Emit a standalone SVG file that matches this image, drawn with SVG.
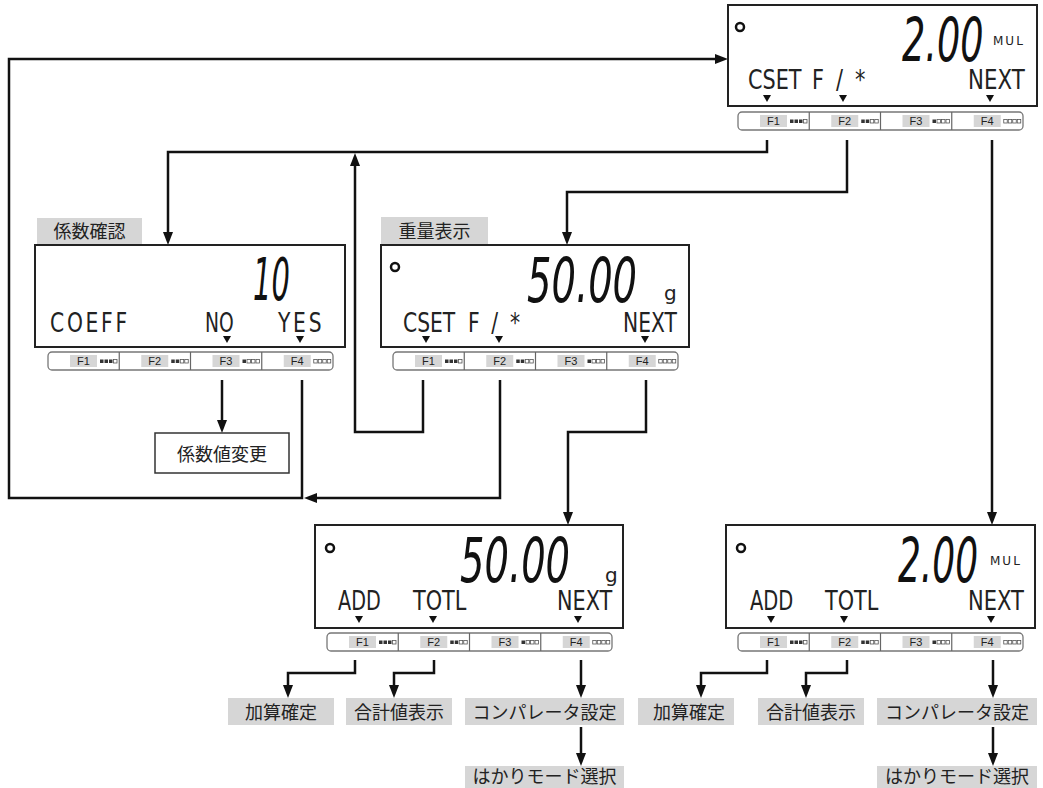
<svg xmlns="http://www.w3.org/2000/svg" width="1043" height="788" viewBox="0 0 1043 788">
<style>
.box{fill:#fff;stroke:#222;stroke-width:2}
.bar{fill:#fff;stroke:#777;stroke-width:1.3}
.div{stroke:#666;stroke-width:1.2}
.kbg{fill:#d6d6d6}
.key{font-family:"Liberation Sans",sans-serif;font-size:11px;fill:#222;text-anchor:middle}
.big{font-family:"DejaVu Sans",sans-serif;font-style:italic;fill:#111}
.lcd{font-family:"DejaVu Sans",sans-serif;font-size:26px;fill:#222}
.unit{font-family:"DejaVu Sans",sans-serif;fill:#222}
.tag{fill:#d6d6d6}
.jp{font-family:"Noto Sans CJK JP",sans-serif;font-size:18px;fill:#222;text-anchor:middle}
.ring{fill:none;stroke:#111;stroke-width:2.5}
.tri{fill:#111}
.con{fill:none;stroke:#111;stroke-width:2.5;stroke-linejoin:miter}
.sq{fill:#333}
.sqo{fill:none;stroke:#555;stroke-width:0.8}
</style>
<defs>
<marker id="ah" markerUnits="userSpaceOnUse" markerWidth="14" markerHeight="11" refX="3" refY="5" orient="auto"><path d="M0,0 L13,5 L0,10 z" fill="#111"/></marker>
<g id="d1"><rect class="sq" x="0" y="0" width="3.5" height="3.5"/><rect class="sq" x="4.5" y="0" width="3.5" height="3.5"/><rect class="sq" x="9" y="0" width="3.5" height="3.5"/><rect class="sqo" x="13.5" y="0" width="3.5" height="3.5"/></g>
<g id="d2"><rect class="sq" x="0" y="0" width="3.5" height="3.5"/><rect class="sq" x="4.5" y="0" width="3.5" height="3.5"/><rect class="sqo" x="9" y="0" width="3.5" height="3.5"/><rect class="sqo" x="13.5" y="0" width="3.5" height="3.5"/></g>
<g id="d3"><rect class="sq" x="0" y="0" width="3.5" height="3.5"/><rect class="sqo" x="4.5" y="0" width="3.5" height="3.5"/><rect class="sqo" x="9" y="0" width="3.5" height="3.5"/><rect class="sqo" x="13.5" y="0" width="3.5" height="3.5"/></g>
<g id="d4"><rect class="sqo" x="0" y="0" width="3.5" height="3.5"/><rect class="sqo" x="4.5" y="0" width="3.5" height="3.5"/><rect class="sqo" x="9" y="0" width="3.5" height="3.5"/><rect class="sqo" x="13.5" y="0" width="3.5" height="3.5"/></g>
</defs>

<g id="connectors">
<path class="con" marker-end="url(#ah)" d="M302,380 V498 H9 V59 H718"/>
<path class="con" marker-end="url(#ah)" d="M500,380 V498 H314"/>
<path class="con" marker-end="url(#ah)" d="M767,140 V152 H168 V235"/>
<path class="con" marker-end="url(#ah)" d="M847,140 V192 H567 V235"/>
<path class="con" marker-end="url(#ah)" d="M992,140 V515"/>
<path class="con" marker-end="url(#ah)" d="M423,380 V432 H355 V163"/>
<path class="con" marker-end="url(#ah)" d="M646,380 V432 H568 V515"/>
<path class="con" marker-end="url(#ah)" d="M222,380 V423"/>
<path class="con" marker-end="url(#ah)" d="M355,660 V673 H288 V688"/>
<path class="con" marker-end="url(#ah)" d="M434,660 V673 H394 V688"/>
<path class="con" marker-end="url(#ah)" d="M581,660 V688"/>
<path class="con" marker-end="url(#ah)" d="M581,727 V756"/>
<path class="con" marker-end="url(#ah)" d="M767,660 V673 H701 V688"/>
<path class="con" marker-end="url(#ah)" d="M847,660 V673 H806 V688"/>
<path class="con" marker-end="url(#ah)" d="M993,660 V688"/>
<path class="con" marker-end="url(#ah)" d="M993,727 V756"/>
</g>

<g id="display-top">
<rect class="box" x="728" y="5" width="309" height="101"/>
<circle class="ring" cx="740" cy="27" r="4"/>
<text class="big" transform="translate(902,61) scale(0.6,1)" font-size="61">2.00</text>
<text class="unit" x="993" y="45" font-size="12" letter-spacing="2">MUL</text>
<text class="lcd" transform="translate(748,89) scale(0.8,1)" font-size="25">CSET</text>
<text class="lcd" transform="translate(812,89) scale(0.8,1)" font-size="25" letter-spacing="15">F/*</text>
<text class="lcd" transform="translate(968,89) scale(0.82,1)" font-size="25">NEXT</text>
<polygon class="tri" points="763,95 771,95 767,102"/>
<polygon class="tri" points="839,95 847,95 843,102"/>
<polygon class="tri" points="986,95 994,95 990,102"/>
<rect class="bar" x="738" y="112" width="285" height="18" rx="4"/>
<line class="div" x1="809.25" y1="112" x2="809.25" y2="130"/>
<line class="div" x1="880.5" y1="112" x2="880.5" y2="130"/>
<line class="div" x1="951.75" y1="112" x2="951.75" y2="130"/>
<rect class="kbg" x="760" y="115" width="27" height="12"/><text class="key" x="773.5" y="125">F1</text><use href="#d1" x="790" y="119.5"/>
<rect class="kbg" x="831.25" y="115" width="27" height="12"/><text class="key" x="844.75" y="125">F2</text><use href="#d2" x="861.25" y="119.5"/>
<rect class="kbg" x="902.5" y="115" width="27" height="12"/><text class="key" x="916" y="125">F3</text><use href="#d3" x="932.5" y="119.5"/>
<rect class="kbg" x="973.75" y="115" width="27" height="12"/><text class="key" x="987.25" y="125">F4</text><use href="#d4" x="1003.75" y="119.5"/>
</g>

<g id="display-coeff">
<rect class="tag" x="37" y="218" width="105" height="26"/>
<text class="jp" x="89.5" y="238">係数確認</text>
<rect class="box" x="35" y="245" width="310" height="102"/>
<text class="big" transform="translate(253,300) scale(0.49,1)" font-size="59">10</text>
<text class="lcd" transform="translate(50,332) scale(0.78,1)" letter-spacing="3.5">COEFF</text>
<text class="lcd" transform="translate(205,332) scale(0.72,1)">NO</text>
<text class="lcd" transform="translate(278,332) scale(0.78,1)" letter-spacing="3.5">YES</text>
<polygon class="tri" points="223,336 231,336 227,343"/>
<polygon class="tri" points="296,336 304,336 300,343"/>
<rect class="bar" x="48" y="352" width="285" height="18" rx="4"/>
<line class="div" x1="119.25" y1="352" x2="119.25" y2="370"/>
<line class="div" x1="190.5" y1="352" x2="190.5" y2="370"/>
<line class="div" x1="261.75" y1="352" x2="261.75" y2="370"/>
<rect class="kbg" x="70" y="355" width="27" height="12"/><text class="key" x="83.5" y="365">F1</text><use href="#d1" x="100" y="359.5"/>
<rect class="kbg" x="141.25" y="355" width="27" height="12"/><text class="key" x="154.75" y="365">F2</text><use href="#d2" x="171.25" y="359.5"/>
<rect class="kbg" x="212.5" y="355" width="27" height="12"/><text class="key" x="226" y="365">F3</text><use href="#d3" x="242.5" y="359.5"/>
<rect class="kbg" x="283.75" y="355" width="27" height="12"/><text class="key" x="297.25" y="365">F4</text><use href="#d4" x="313.75" y="359.5"/>
</g>

<g id="coeff-change">
<rect x="155" y="433" width="134" height="40" fill="#fff" stroke="#333" stroke-width="1.5"/>
<text class="jp" x="222" y="461" font-size="21">係数値変更</text>
</g>

<g id="display-weight">
<rect class="tag" x="381" y="217" width="107" height="27"/>
<text class="jp" x="434.5" y="238">重量表示</text>
<rect class="box" x="381" y="245" width="308" height="102"/>
<circle class="ring" cx="395" cy="267" r="4"/>
<text class="big" transform="translate(527,302) scale(0.62,1)" font-size="62">50.00</text>
<text class="unit" x="664" y="300" font-size="20">g</text>
<text class="lcd" transform="translate(403,332) scale(0.78,1)">CSET</text>
<text class="lcd" transform="translate(468,332) scale(0.78,1)" letter-spacing="15">F/*</text>
<text class="lcd" transform="translate(623,332) scale(0.78,1)">NEXT</text>
<polygon class="tri" points="422,336 430,336 426,343"/>
<polygon class="tri" points="495,336 503,336 499,343"/>
<polygon class="tri" points="641,336 649,336 645,343"/>
<rect class="bar" x="393" y="352" width="285" height="18" rx="4"/>
<line class="div" x1="464.25" y1="352" x2="464.25" y2="370"/>
<line class="div" x1="535.5" y1="352" x2="535.5" y2="370"/>
<line class="div" x1="606.75" y1="352" x2="606.75" y2="370"/>
<rect class="kbg" x="415" y="355" width="27" height="12"/><text class="key" x="428.5" y="365">F1</text><use href="#d1" x="445" y="359.5"/>
<rect class="kbg" x="486.25" y="355" width="27" height="12"/><text class="key" x="499.75" y="365">F2</text><use href="#d2" x="516.25" y="359.5"/>
<rect class="kbg" x="557.5" y="355" width="27" height="12"/><text class="key" x="571" y="365">F3</text><use href="#d3" x="587.5" y="359.5"/>
<rect class="kbg" x="628.75" y="355" width="27" height="12"/><text class="key" x="642.25" y="365">F4</text><use href="#d4" x="658.75" y="359.5"/>
</g>

<g id="display-add-g">
<rect class="box" x="315" y="525" width="308" height="103"/>
<circle class="ring" cx="330" cy="548" r="4"/>
<text class="big" transform="translate(460,582) scale(0.62,1)" font-size="62">50.00</text>
<text class="unit" x="605" y="582" font-size="20">g</text>
<text class="lcd" transform="translate(338,610) scale(0.74,1)">ADD</text>
<text class="lcd" transform="translate(413,610) scale(0.8,1)">TOTL</text>
<text class="lcd" transform="translate(557,610) scale(0.8,1)">NEXT</text>
<polygon class="tri" points="355,616 363,616 359,623"/>
<polygon class="tri" points="429,616 437,616 433,623"/>
<polygon class="tri" points="574,616 582,616 578,623"/>
<rect class="bar" x="327" y="633" width="285" height="18" rx="4"/>
<line class="div" x1="398.25" y1="633" x2="398.25" y2="651"/>
<line class="div" x1="469.5" y1="633" x2="469.5" y2="651"/>
<line class="div" x1="540.75" y1="633" x2="540.75" y2="651"/>
<rect class="kbg" x="349" y="636" width="27" height="12"/><text class="key" x="362.5" y="646">F1</text><use href="#d1" x="379" y="640.5"/>
<rect class="kbg" x="420.25" y="636" width="27" height="12"/><text class="key" x="433.75" y="646">F2</text><use href="#d2" x="450.25" y="640.5"/>
<rect class="kbg" x="491.5" y="636" width="27" height="12"/><text class="key" x="505" y="646">F3</text><use href="#d3" x="521.5" y="640.5"/>
<rect class="kbg" x="562.75" y="636" width="27" height="12"/><text class="key" x="576.25" y="646">F4</text><use href="#d4" x="592.75" y="640.5"/>
</g>

<g id="display-add-mul">
<rect class="box" x="726" y="525" width="309" height="103"/>
<circle class="ring" cx="741" cy="548" r="4"/>
<text class="big" transform="translate(898,582) scale(0.58,1)" font-size="62">2.00</text>
<text class="unit" x="990" y="565" font-size="12" letter-spacing="2">MUL</text>
<text class="lcd" transform="translate(750,610) scale(0.75,1)">ADD</text>
<text class="lcd" transform="translate(825,610) scale(0.8,1)">TOTL</text>
<text class="lcd" transform="translate(968,610) scale(0.81,1)">NEXT</text>
<polygon class="tri" points="767,616 775,616 771,623"/>
<polygon class="tri" points="840,616 848,616 844,623"/>
<polygon class="tri" points="987,616 995,616 991,623"/>
<rect class="bar" x="738" y="633" width="285" height="18" rx="4"/>
<line class="div" x1="809.25" y1="633" x2="809.25" y2="651"/>
<line class="div" x1="880.5" y1="633" x2="880.5" y2="651"/>
<line class="div" x1="951.75" y1="633" x2="951.75" y2="651"/>
<rect class="kbg" x="760" y="636" width="27" height="12"/><text class="key" x="773.5" y="646">F1</text><use href="#d1" x="790" y="640.5"/>
<rect class="kbg" x="831.25" y="636" width="27" height="12"/><text class="key" x="844.75" y="646">F2</text><use href="#d2" x="861.25" y="640.5"/>
<rect class="kbg" x="902.5" y="636" width="27" height="12"/><text class="key" x="916" y="646">F3</text><use href="#d3" x="932.5" y="640.5"/>
<rect class="kbg" x="973.75" y="636" width="27" height="12"/><text class="key" x="987.25" y="646">F4</text><use href="#d4" x="1003.75" y="640.5"/>
</g>

<g id="lbl-add-a"><rect class="tag" x="228" y="698" width="106" height="27"/><text class="jp" x="281" y="719">加算確定</text></g>
<g id="lbl-total-a"><rect class="tag" x="346" y="698" width="106" height="27"/><text class="jp" x="399" y="719">合計値表示</text></g>
<g id="lbl-comp-a"><rect class="tag" x="465" y="698" width="159" height="27"/><text class="jp" x="544.5" y="719">コンパレータ設定</text></g>
<g id="lbl-mode-a"><rect class="tag" x="465" y="766" width="159" height="22"/><text class="jp" x="544.5" y="783">はかりモード選択</text></g>

<g id="lbl-add-b"><rect class="tag" x="638" y="698" width="96" height="27"/><text class="jp" x="689" y="719">加算確定</text></g>
<g id="lbl-total-b"><rect class="tag" x="758" y="698" width="106" height="27"/><text class="jp" x="811" y="719">合計値表示</text></g>
<g id="lbl-comp-b"><rect class="tag" x="877" y="698" width="160" height="27"/><text class="jp" x="957" y="719">コンパレータ設定</text></g>
<g id="lbl-mode-b"><rect class="tag" x="877" y="766" width="160" height="22"/><text class="jp" x="957" y="783">はかりモード選択</text></g>
</svg>
